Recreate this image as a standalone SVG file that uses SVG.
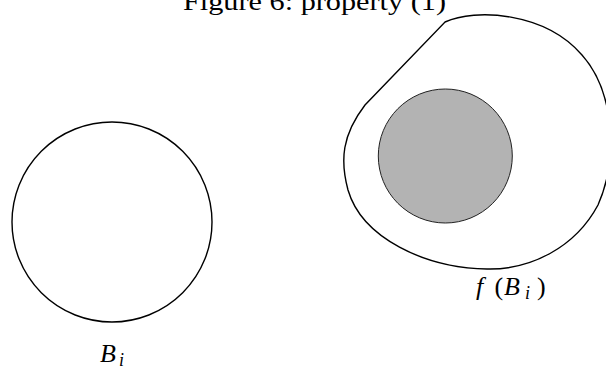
<svg xmlns="http://www.w3.org/2000/svg" width="606" height="370" viewBox="0 0 606 370">
<style>
.ln{fill:none;stroke:#000;stroke-width:1.4}
.t{font-family:"Liberation Serif","DejaVu Serif",serif;fill:#000;font-size:26px}
.it{font-style:italic}
.sub{font-size:18px}
</style>
<rect width="606" height="370" fill="#fff"/>
<text class="t" x="183" y="10" textLength="263" lengthAdjust="spacingAndGlyphs">Figure 6: property (1)</text>
<g id="Bi">
<circle class="ln" cx="112" cy="222" r="100"/>
<text class="t" y="362"><tspan class="it" x="100">B</tspan><tspan class="it sub" x="119" y="366">i</tspan></text>
</g>
<g id="fBi">
<path class="ln" d="M445 22 C475 8 545 12 582 55 C615 92 618 160 598 205 C575 248 530 270 487 269 C425 268 362 238 348 190 C340 160 342 135 365 105 L445 22 Z"/>
<circle cx="445.3" cy="156" r="67" fill="#b3b3b3" stroke="#222" stroke-width="1"/>
<text class="t" y="295"><tspan class="it" x="476">f</tspan><tspan x="494.5">(</tspan><tspan class="it" x="504">B</tspan><tspan class="it sub" x="525" y="299">i</tspan><tspan x="537" y="295">)</tspan></text>
</g>
</svg>
